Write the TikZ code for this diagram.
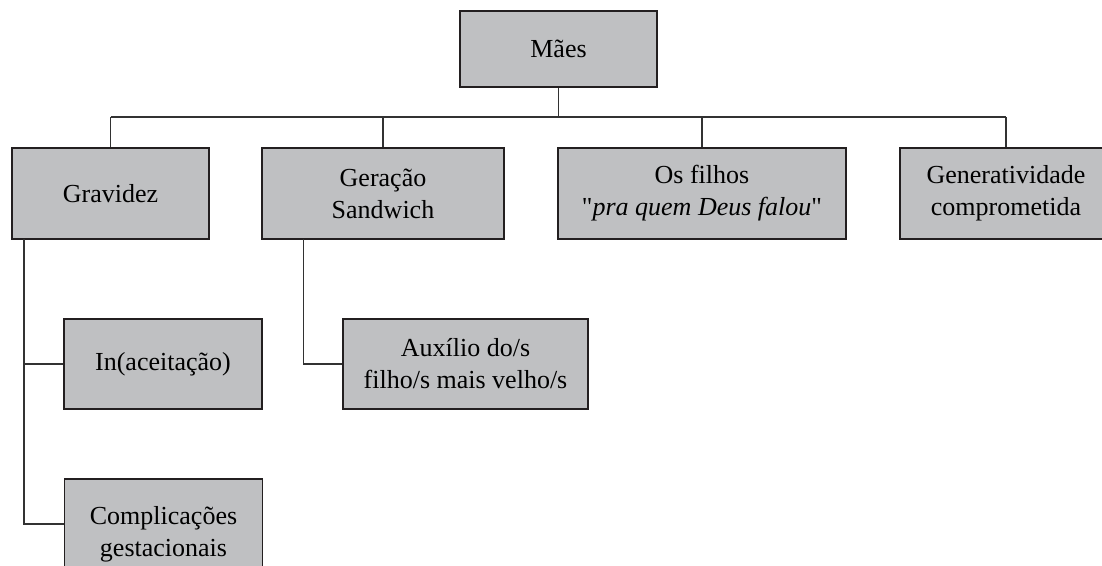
\documentclass[tikz,border=0pt]{standalone}
\usepackage{fontspec}
\setmainfont{Liberation Serif}
\newfontfamily\rawserif{Liberation Serif}[Ligatures=ResetAll]
\newcommand{\sq}{{\rawserif"}}
\definecolor{boxfill}{RGB}{191,192,194}
\definecolor{boxline}{RGB}{35,31,32}
\definecolor{conn}{RGB}{50,50,50}
\begin{document}
\begin{tikzpicture}[x=1pt,y=-1pt,
  box/.style={draw=boxline,fill=boxfill,line width=1.3pt,rectangle,inner sep=0pt,align=center,
    font=\fontsize{26}{32}\selectfont},
  conline/.style={draw=conn,line width=1.3pt}]
\clip (0,0) rectangle (1102,565);
\fill[white] (0,0) rectangle (1102,565);
\node[box,minimum width=197pt,minimum height=76pt] (maes) at (558.5,49) {Mães};
\node[box,minimum width=197pt,minimum height=91pt] (grav) at (110.5,193.5) {Gravidez};
\node[box,minimum width=242pt,minimum height=91pt] (ger) at (383,193.5) {Geração\\Sandwich};
\node[box,minimum width=288pt,minimum height=91pt] (fil) at (702,193.5) {Os filhos\\\sq\textit{pra quem Deus falou}\sq};
\node[box,minimum width=212pt,minimum height=91pt] (gen) at (1006,193.5) {Generatividade\\comprometida};
\node[box,minimum width=198pt,minimum height=90pt] (inac) at (163,364) {In(aceitação)};
\node[box,minimum width=198pt,minimum height=110pt] (comp) at (163.5,534) {Complicações\\gestacionais};
\node[box,minimum width=245pt,minimum height=90pt] (aux) at (465.5,364) {Auxílio do/s\\filho/s mais velho/s};
\coordinate (busL) at (110.5,117);
\coordinate (busR) at (1006,117);
\coordinate (gtrunk) at (24,239);
\coordinate (strunk) at (303.5,239);
\draw[conline] (maes.south) -- (maes.south |- busL);
\draw[conline] (busL) -- (busR);
\draw[conline] (grav.north) -- (grav.north |- busL);
\draw[conline] (ger.north) -- (ger.north |- busL);
\draw[conline] (fil.north) -- (fil.north |- busL);
\draw[conline] (gen.north) -- (gen.north |- busL);
\draw[conline] (gtrunk) -- (gtrunk |- 0,524) -- (comp.west |- 0,524);
\draw[conline] (gtrunk |- inac.west) -- (inac.west);
\draw[conline] (strunk) -- (strunk |- aux.west) -- (aux.west);
\end{tikzpicture}
\end{document}
